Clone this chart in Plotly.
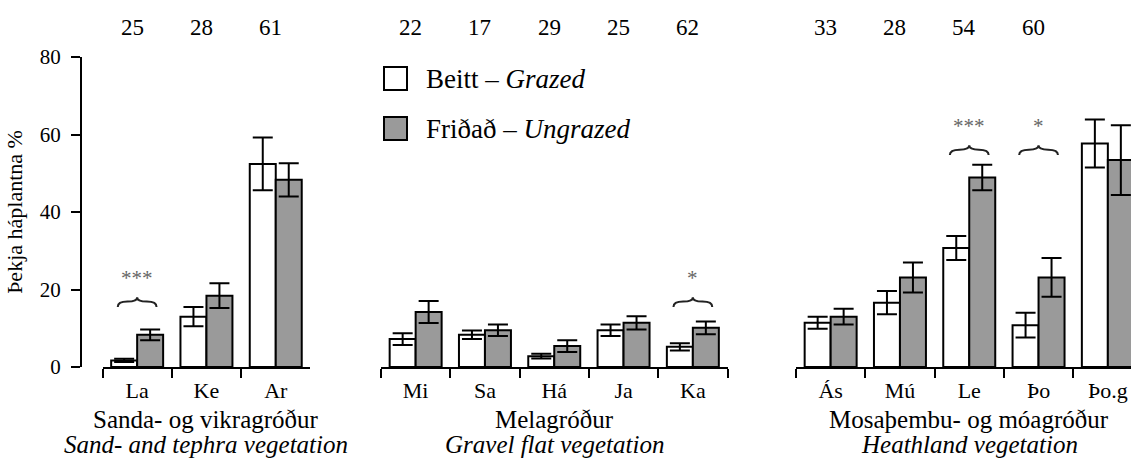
import plotly.graph_objects as go

# ---------------- data ----------------
group_is = ["Sanda- og vikragróður", "Melagróður", "Mosaþembu- og móagróður"]
group_en = ["Sand- and tephra vegetation", "Gravel flat vegetation", "Heathland vegetation"]
cats = [["La", "Ke", "Ar"],
        ["Mi", "Sa", "Há", "Ja", "Ka"],
        ["Ás", "Mú", "Le", "Þo", "Þo.g"]]
counts = [["25", "28", "61"],
          ["22", "17", "29", "25", "62"],
          ["33", "28", "54", "60", ""]]
grazed = [[1.7, 13.0, 52.4],
          [7.2, 8.3, 2.8, 9.5, 5.2],
          [11.4, 16.6, 30.7, 10.8, 57.7]]
grazed_se = [[0.4, 2.5, 6.8],
             [1.5, 1.1, 0.6, 1.5, 0.95],
             [1.55, 3.0, 3.1, 3.2, 6.2]]
ungrazed = [[8.3, 18.4, 48.3],
            [14.2, 9.5, 5.4, 11.4, 10.1],
            [13.0, 23.1, 48.9, 23.1, 53.4]]
ungrazed_se = [[1.4, 3.2, 4.3],
               [2.85, 1.5, 1.5, 1.7, 1.65],
               [2.05, 3.9, 3.3, 5.0, 9.0]]
sig_cats = ["La", "Ka", "Le", "Þo"]
sig_stars = ["***", "*", "***", "*"]
sig_level = [15.5, 15.5, 54.7, 54.7]
yticks = [0, 20, 40, 60, 80]

# ---------------- layout constants ----------------
W, H = 1131, 458
ML, MR, MT, MB = 81, 0, 57, 91
PW = W - ML - MR
PH = H - MT - MB
SLOT = 69.3
group_left_px = [102.5, 381, 796]
FONT = "Liberation Serif, Times New Roman, serif"
GREY = "#9a9a9a"

fig = go.Figure()
layout_axes = {}
annotations = []
shapes = []


def py2y(py):
    return (MT + PH - py) / PH


def px2x(px):
    return (px - ML) / PW


for g in range(3):
    n = len(cats[g])
    axname = "x" if g == 0 else f"x{g+1}"
    layout_key = "xaxis" if g == 0 else f"xaxis{g+1}"
    d0 = (group_left_px[g] - ML) / PW
    d1 = (group_left_px[g] + n * SLOT - ML) / PW
    if d1 > 1:
        d1 = 1.0
    rng = [-0.5, -0.5 + (d1 - d0) * PW / SLOT]
    layout_axes[layout_key] = dict(
        domain=[d0, d1], anchor="y", type="category", range=rng,
        categoryorder="array", categoryarray=cats[g],
        showline=True, linecolor="black", linewidth=2,
        ticks="outside", tickson="boundaries", ticklen=9, tickwidth=2, tickcolor="black",
        ticklabelstandoff=3,
        tickfont=dict(family=FONT, size=22, color="black"),
        showgrid=False, zeroline=False, fixedrange=True,
    )
    fig.add_trace(go.Bar(
        x=cats[g], y=grazed[g], name="Beitt – Grazed", showlegend=False,
        xaxis=axname, yaxis="y", offsetgroup="a",
        marker=dict(color="white", line=dict(color="black", width=2)),
        error_y=dict(type="data", array=grazed_se[g], color="black", thickness=2, width=10),
    ))
    fig.add_trace(go.Bar(
        x=cats[g], y=ungrazed[g], name="Friðað – Ungrazed", showlegend=False,
        xaxis=axname, yaxis="y", offsetgroup="b",
        marker=dict(color=GREY, line=dict(color="black", width=2)),
        error_y=dict(type="data", array=ungrazed_se[g], color="black", thickness=2, width=10),
    ))
    # sample counts above
    for i, c in enumerate(counts[g]):
        if c:
            annotations.append(dict(x=i, y=py2y(27), xref=axname, yref="paper",
                                    text=c, showarrow=False, xshift=-5, yanchor="middle",
                                    font=dict(family=FONT, size=23, color="black")))
    mid = (n - 1) / 2
    annotations.append(dict(x=mid, y=py2y(419), xref=axname, yref="paper",
                            text=group_is[g], showarrow=False, yanchor="middle",
                            font=dict(family=FONT, size=25, color="black")))
    annotations.append(dict(x=mid, y=py2y(445), xref=axname, yref="paper",
                            text="<i>" + group_en[g] + "</i>", showarrow=False, yanchor="middle",
                            font=dict(family=FONT, size=25, color="black")))

# significance braces and stars
a = 0.28
hb = 2.5
for c, s, lvl in zip(sig_cats, sig_stars, sig_level):
    for g in range(3):
        if c in cats[g]:
            axname = "x" if g == 0 else f"x{g+1}"
            xc = cats[g].index(c)
            x0, x1 = xc - a, xc + a
            ym = lvl + 0.55 * hb
            path = (f"M {x0},{lvl} Q {x0},{ym} {xc - a/2},{ym} Q {xc},{ym} {xc},{lvl + hb} "
                    f"Q {xc},{ym} {xc + a/2},{ym} Q {x1},{ym} {x1},{lvl}")
            shapes.append(dict(type="path", path=path, xref=axname, yref="y",
                               line=dict(color="#222222", width=2)))
            annotations.append(dict(x=xc, y=lvl + 7.4, xref=axname, yref="y", text=s,
                                    showarrow=False, yanchor="middle",
                                    font=dict(family=FONT, size=21, color="#666666")))

# custom legend
legend_items = [("white", "Beitt – <i>Grazed</i>", 67, 90),
                (GREY, "Friðað – <i>Ungrazed</i>", 117, 140)]
for col, txt, t, b in legend_items:
    shapes.append(dict(type="rect", xref="paper", yref="paper",
                       x0=px2x(384), x1=px2x(407), y0=py2y(b), y1=py2y(t),
                       fillcolor=col, line=dict(color="black", width=2)))
    annotations.append(dict(x=px2x(424), y=py2y((t + b) / 2), xref="paper", yref="paper",
                            text=txt, showarrow=False, xanchor="left", yanchor="middle",
                            font=dict(family=FONT, size=27, color="black")))

fig.update_layout(
    width=W, height=H,
    margin=dict(l=ML, r=MR, t=MT, b=MB, pad=0),
    paper_bgcolor="white", plot_bgcolor="white",
    barmode="group", bargap=0.25, bargroupgap=0,
    showlegend=False,
    yaxis=dict(anchor="free", position=0, domain=[0, 1], range=[0, 80],
               tickvals=yticks, showline=True, linecolor="black", linewidth=2,
               ticks="outside", ticklen=9, tickwidth=2, tickcolor="black",
               ticklabelstandoff=6,
               tickfont=dict(family=FONT, size=21, color="black"),
               title=dict(text="Þekja háplantna %", standoff=10,
                          font=dict(family=FONT, size=22, color="black")),
               showgrid=False, zeroline=False, fixedrange=True),
    annotations=annotations,
    shapes=shapes,
    **layout_axes,
)

fig.write_html("out.html")
